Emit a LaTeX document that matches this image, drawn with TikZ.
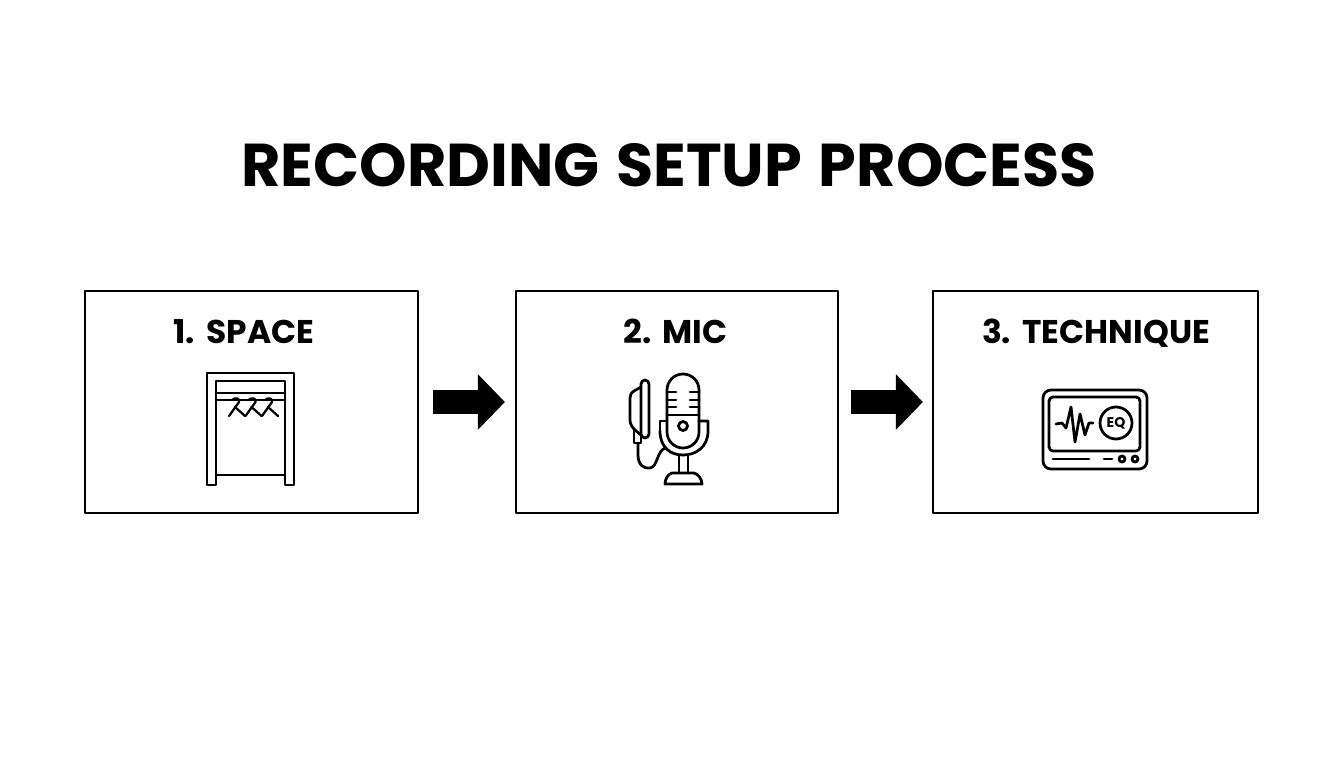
\documentclass[tikz,border=0pt]{standalone}
\usepackage{fontspec}
\setmainfont{Poppins}[WordSpace=1.3]
\usetikzlibrary{arrows.meta}
\tikzset{
  stepbox/.style={draw, line width=0.045cm, minimum height=4.44cm, inner sep=0pt},
  steplabel/.style={anchor=base, font=\fontsize{18.7}{22}\selectfont\bfseries},
  flow/.style={line width=0.48cm, line cap=butt, -{Triangle[length=0.54cm, width=1.08cm]}},
  icon/.style={line width=0.055cm}
}
\begin{document}
\begin{tikzpicture}[x=0.02cm, y=-0.02cm, line cap=round, line join=round]
  \useasboundingbox (0,0) rectangle (1344,768);

  \node[anchor=base, font=\fontsize{34.4}{40}\selectfont\bfseries] (title) at (669,186) {RECORDING SETUP PROCESS};

  \node[stepbox, minimum width=6.66cm] (space) at (251.5,402) {};
  \node[stepbox, minimum width=6.44cm] (mic) at (677,402) {};
  \node[stepbox, minimum width=6.50cm] (technique) at (1095.5,402) {};

  \node[steplabel] (spacelabel) at (244,343) {1. SPACE};
  \node[steplabel] (miclabel) at (675.5,343) {2. MIC};
  \node[steplabel] (techniquelabel) at (1096,343) {3. TECHNIQUE};

  \draw[flow, shorten <=0.28cm, shorten >=0.20cm] (space) -- (mic);
  \draw[flow, shorten <=0.24cm, shorten >=0.18cm] (mic) -- (technique);

  % Wardrobe
  \draw[icon] (207,485) -- (207,373) -- (294,373) -- (294,485) -- (285,485) -- (285,381)
    -- (216,381) -- (216,485) -- cycle;
  \draw[icon] (216,393) -- (285,393);
  \draw[icon] (216,400) -- (285,400);
  \draw[icon] (216,475) -- (285,475);
  \foreach \x in {0,16.5,33}{
    \draw[icon, line width=0.045cm, xshift=\x*0.02cm]
      (232,400) .. controls (235,397) and (240,398) .. (239,402)
      -- (229,416);
    \draw[icon, line width=0.045cm, xshift=\x*0.02cm] (235,407) -- (245,416);
  }

  % Microphone
  \draw[icon] (667,415) -- (667,390) arc (180:360:16) -- (699,432)
    arc (0:180:16) -- cycle;
  \draw[icon] (667,415) -- (699,415);
  \foreach \y in {392,400,407}{
    \draw[icon] (667,\y) -- (676,\y);
    \draw[icon] (690,\y) -- (699,\y);
  }
  \draw[icon] (683,426) circle (4.5);
  \draw[icon] (667,421) -- (660,421) -- (660,431);
  \draw[icon] (660,431) .. controls (660,447) and (670,455) .. (683,455)
    .. controls (696,455) and (708,447) .. (708,431) -- (708,421) -- (699,421);
  \draw[icon] (679,455) -- (679,473);
  \draw[icon] (688,455) -- (688,473);
  \draw[icon] (672,473) -- (694,473) .. controls (698,474) and (702,479) .. (702,484)
    -- (665,484) .. controls (665,479) and (668,474) .. (672,473) -- cycle;
  % Pop filter and cable
  \draw[icon] (641,384) arc (180:360:4) -- (649,434) arc (0:180:4) -- cycle;
  \draw[icon] (641,387) -- (634,391) .. controls (631,393) and (630,395) .. (630,398)
    -- (630,420) .. controls (630,424) and (632,427) .. (635,430) -- (641,435);
  \draw[icon] (634,430) -- (634,443) -- (641,443) -- (641,435);
  \draw[icon] (638,443) -- (638,455) .. controls (638,465) and (644,469) .. (650,468)
    .. controls (658,467) and (657,449) .. (666,448);

  % Monitor
  \draw[icon] (1043,398) arc (180:270:8) -- (1139,390) arc (270:360:8) -- (1147,461)
    arc (0:90:8) -- (1051,469) arc (90:180:8) -- cycle;
  \draw[icon] (1049,401) arc (180:270:4) -- (1136,397) arc (270:360:4) -- (1140,447)
    arc (0:90:4) -- (1053,451) arc (90:180:4) -- cycle;
  \draw[icon] (1056,424) -- (1062,423) -- (1066,428) -- (1071,407)
    -- (1075,442) -- (1080,414) -- (1085,435) -- (1089,423) -- (1093,423);
  \node[draw, circle, icon, minimum size=0.64cm, inner sep=0pt, font=\fontsize{8}{9}\selectfont\bfseries] (eq) at (1116,423) {EQ};
  \draw[icon] (1053,459) -- (1089,459);
  \draw[icon] (1104,459) -- (1112,459);
  \draw[icon] (1122,459) circle (3);
  \draw[icon] (1135,459) circle (3);
\end{tikzpicture}
\end{document}
